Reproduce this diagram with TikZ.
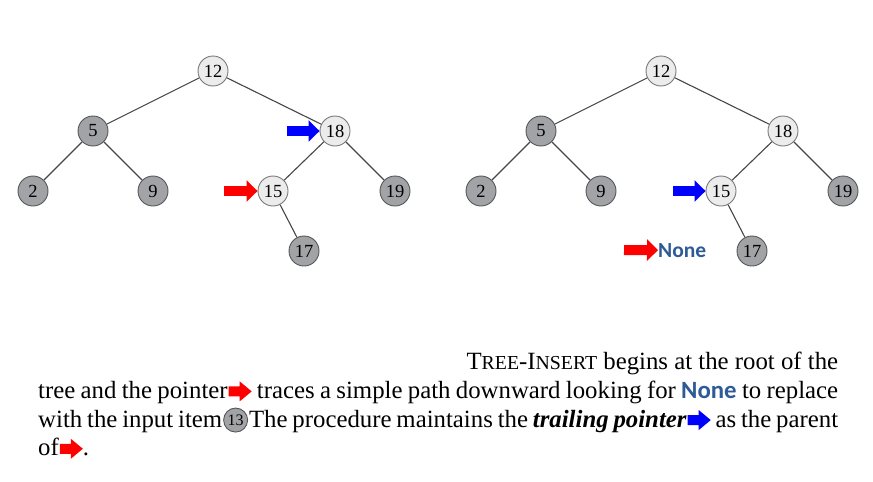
\documentclass[tikz,border=0pt]{standalone}
\usepackage{fontspec}
\setmainfont{Liberation Serif}
\newfontfamily\nonefont{Carlito}
\usetikzlibrary{arrows.meta,positioning}
\definecolor{edgegray}{RGB}{70,70,70}
\definecolor{lightfill}{RGB}{236,236,236}
\definecolor{lightedge}{RGB}{120,120,120}
\definecolor{darkfill}{RGB}{162,163,167}
\definecolor{darkedge}{RGB}{85,85,85}
\definecolor{noneblue}{RGB}{46,90,150}
\tikzset{
    keynode/.style={circle, minimum size=30pt, inner sep=0pt, line width=0.9pt, font=\fontsize{18.5}{18.5}\selectfont},
    litnode/.style={keynode, draw=lightedge, fill=lightfill},
    darknode/.style={keynode, draw=darkedge, fill=darkfill},
    link/.style={draw=edgegray, line width=1.1pt},
    redptr/.style={draw=red, line width=10pt, -{Triangle[length=11pt, width=21pt]}},
    blueptr/.style={redptr, draw=blue}
}
% inline pointer icon for the caption
\newcommand{\ptricon}[1]{\tikz[baseline=-7pt]\fill[#1] (0pt,-5pt) -- (11pt,-5pt) -- (11pt,-10pt) -- (23pt,0pt) -- (11pt,10pt) -- (11pt,5pt) -- (0pt,5pt) -- cycle;}
\newcommand{\circkey}[1]{\tikz[baseline=-7pt]\node[darknode, anchor=center, text width=, align=center, minimum size=24pt, font=\fontsize{16}{16}\selectfont] (k) at (0pt,0pt) {#1};}
\newcommand{\nonetxt}{{\nonefont\bfseries\color{noneblue}None}}

\begin{document}
\begin{tikzpicture}[x=1pt, y=-1pt]
    \useasboundingbox (0,0) rectangle (873,482);

    % before
    \node (a12) [litnode] at (213,71) {12};
    \node (a5) [darknode] at (93,131) {5};
    \node (a18) [litnode] at (335,131) {18};
    \node (a2) [darknode] at (33,191) {2};
    \node (a9) [darknode] at (153,191) {9};
    \node (a15) [litnode] at (273,191) {15};
    \node (a19) [darknode] at (395,191) {19};
    \node (a17) [darknode] at (304,251) {17};
    \draw [link] (a12) -- (a5);
    \draw [link] (a12) -- (a18);
    \draw [link] (a5) -- (a2);
    \draw [link] (a5) -- (a9);
    \draw [link] (a18) -- (a15);
    \draw [link] (a18) -- (a19);
    \draw [link] (a15) -- (a17);
    \coordinate (ptrA) at (287,131);
    \coordinate (ptrB) at (224,191);
    \draw [blueptr] (ptrA) -- (a18.west);
    \draw [redptr] (ptrB) -- (a15.west);

    % after
    \node (b12) [litnode] at (661,71) {12};
    \node (b5) [darknode] at (541,131) {5};
    \node (b18) [litnode] at (783,131) {18};
    \node (b2) [darknode] at (481,191) {2};
    \node (b9) [darknode] at (601,191) {9};
    \node (b15) [litnode] at (721,191) {15};
    \node (b19) [darknode] at (843,191) {19};
    \node (b17) [darknode] at (752,251) {17};
    \node (none) [anchor=base west, inner sep=0pt, font=\fontsize{21.5}{21.5}\selectfont] at (658,257) {\nonetxt};
    \draw [link] (b12) -- (b5);
    \draw [link] (b12) -- (b18);
    \draw [link] (b5) -- (b2);
    \draw [link] (b5) -- (b9);
    \draw [link] (b18) -- (b15);
    \draw [link] (b18) -- (b19);
    \draw [link] (b15) -- (b17);
    \coordinate (ptrC) at (673,191);
    \coordinate (ptrD) at (624,250);
    \draw [blueptr] (ptrC) -- (b15.west);
    \draw [redptr] (ptrD) -- (none.west);

    % caption
    \node (para) [anchor=north west, text width=800pt, inner sep=0pt, align=justify, font=\fontsize{24.8}{28.7}\selectfont] at (38,352)
        {\hyphenpenalty=10000\exhyphenpenalty=10000
        \hspace*{\fill}T{\fontsize{19.8}{19.8}\selectfont REE}-I{\fontsize{19.8}{19.8}\selectfont NSERT} begins at the root of the\\
        tree and the pointer\hspace{1pt}\ptricon{red} traces a simple path downward looking for \nonetxt{} to replace\linebreak
        with the input item\hspace{1pt}\circkey{13}\hspace{1pt}The procedure maintains the \textbf{\textit{trailing pointer}}\hspace{1pt}\ptricon{blue} as the parent\linebreak
        of\hspace{1pt}\ptricon{red}.};
\end{tikzpicture}
\end{document}
